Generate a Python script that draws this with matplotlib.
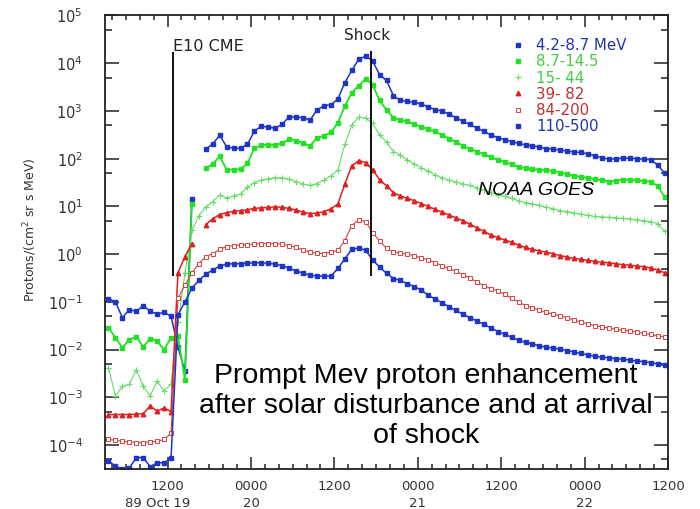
import numpy as np
import matplotlib.pyplot as plt
from matplotlib.lines import Line2D

plt.rcParams['font.family'] = ['DejaVu Sans']

# sample times: hours after 1989 Oct 19 00:00 UT (one point per hour)
hours = [h + 0.5 for h in range(3, 84)]

# log10 of proton flux, Protons/(cm2 sr s MeV)
flux_4_9 = [-0.93, -1.00, -1.33, -1.16, -1.20, -1.08, -1.20, -1.25, -1.22, -1.30,
            -1.95, -2.45, 1.16, np.nan, 2.20, 2.31, 2.49, 2.25, 2.22, 2.22,
            2.30, 2.58, 2.68, 2.66, 2.64, 2.72, 2.88, 2.87, 2.86, 2.81,
            3.02, 3.11, 3.13, 3.25, 3.59, 3.85, 4.08, 4.15, 4.05, 3.76,
            3.64, 3.32, 3.22, 3.20, 3.18, 3.15, 3.08, 3.03, 3.00, 2.93,
            2.86, 2.78, 2.72, 2.64, 2.57, 2.50, 2.44, 2.40, 2.36, 2.32,
            2.29, 2.27, 2.24, 2.21, 2.20, 2.18, 2.16, 2.14, 2.13, 2.10,
            2.06, 2.02, 1.99, 2.00, 2.01, 2.01, 2.00, 1.99, 1.98, 1.87,
            1.70]
flux_9_15 = [-1.54, -1.75, -1.96, -1.79, -1.73, -1.94, -1.77, -1.82, -2.00, -1.75,
             -1.72, -2.63, 1.05, np.nan, 1.80, 1.89, 2.05, 1.77, 1.77, 1.78,
             1.90, 2.22, 2.29, 2.29, 2.29, 2.32, 2.41, 2.38, 2.33, 2.27,
             2.43, 2.48, 2.55, 2.75, 3.10, 3.38, 3.53, 3.67, 3.55, 3.22,
             3.02, 2.86, 2.81, 2.78, 2.72, 2.67, 2.62, 2.57, 2.50, 2.42,
             2.35, 2.27, 2.21, 2.15, 2.10, 2.03, 1.98, 1.93, 1.88, 1.83,
             1.80, 1.78, 1.77, 1.76, 1.74, 1.71, 1.68, 1.64, 1.62, 1.60,
             1.57, 1.55, 1.52, 1.54, 1.56, 1.56, 1.55, 1.53, 1.52, 1.43,
             1.20]
flux_15_44 = [-2.38, -2.97, -2.77, -2.73, -2.42, -2.77, -2.97, -2.66, -2.87, -2.72,
              -1.43, -0.40, 0.50, 0.80, 0.99, 1.10, 1.24, 1.18, 1.22, 1.26,
              1.40, 1.50, 1.55, 1.58, 1.60, 1.60, 1.57, 1.52, 1.47, 1.44,
              1.48, 1.55, 1.64, 1.76, 2.30, 2.70, 2.87, 2.85, 2.74, 2.50,
              2.35, 2.15, 2.08, 1.97, 1.89, 1.81, 1.74, 1.66, 1.60, 1.55,
              1.51, 1.47, 1.44, 1.39, 1.34, 1.29, 1.24, 1.21, 1.17, 1.12,
              1.08, 1.05, 1.02, 0.98, 0.95, 0.91, 0.89, 0.86, 0.84, 0.81,
              0.79, 0.78, 0.77, 0.76, 0.75, 0.74, 0.72, 0.70, 0.68, 0.64,
              0.48]
flux_39_82 = [-3.36, -3.36, -3.36, -3.36, -3.35, -3.34, -3.18, -3.29, -3.22, -3.30,
              -0.39, -0.05, 0.22, np.nan, 0.62, 0.74, 0.83, 0.87, 0.90, 0.91,
              0.93, 0.96, 0.97, 0.98, 0.99, 0.98, 0.96, 0.92, 0.88, 0.85,
              0.86, 0.89, 0.95, 1.05, 1.47, 1.85, 1.96, 1.92, 1.77, 1.56,
              1.43, 1.29, 1.22, 1.17, 1.12, 1.06, 1.00, 0.94, 0.88, 0.82,
              0.76, 0.70, 0.63, 0.55, 0.48, 0.40, 0.35, 0.30, 0.25, 0.19,
              0.14, 0.10, 0.07, 0.04, 0.01, -0.03, -0.06, -0.09, -0.11, -0.13,
              -0.15, -0.17, -0.18, -0.20, -0.22, -0.23, -0.25, -0.26, -0.29, -0.33,
              -0.39]
flux_84_200 = [-3.88, -3.90, -3.92, -3.93, -3.95, -3.95, -3.93, -3.92, -3.88, -3.75,
               -0.92, -0.65, -0.39, -0.20, -0.05, 0.01, 0.10, 0.16, 0.18, 0.19,
               0.20, 0.21, 0.22, 0.22, 0.22, 0.21, 0.18, 0.14, 0.09, 0.04,
               0.02, 0.01, 0.04, 0.08, 0.28, 0.60, 0.72, 0.68, 0.45, 0.28,
               0.12, 0.05, 0.02, 0.00, -0.03, -0.08, -0.12, -0.18, -0.24, -0.30,
               -0.36, -0.43, -0.50, -0.58, -0.66, -0.72, -0.77, -0.84, -0.92, -1.00,
               -1.08, -1.12, -1.17, -1.22, -1.26, -1.29, -1.33, -1.38, -1.42, -1.46,
               -1.50, -1.52, -1.55, -1.57, -1.59, -1.61, -1.63, -1.66, -1.68, -1.71,
               -1.73]
flux_110_500 = [-4.33, -4.44, -4.50, -4.48, -4.26, -4.26, -4.45, -4.37, -4.37, -4.28,
                -1.27, -1.00, -0.71, -0.55, -0.42, -0.33, -0.25, -0.21, -0.20, -0.20,
                -0.19, -0.18, -0.18, -0.19, -0.21, -0.24, -0.30, -0.35, -0.40, -0.44,
                -0.46, -0.46, -0.46, -0.30, -0.10, 0.10, 0.13, 0.08, -0.12, -0.27,
                -0.40, -0.51, -0.55, -0.62, -0.68, -0.75, -0.86, -0.94, -1.02, -1.10,
                -1.18, -1.26, -1.33, -1.40, -1.47, -1.54, -1.62, -1.68, -1.74, -1.80,
                -1.85, -1.88, -1.92, -1.95, -1.97, -1.99, -2.02, -2.05, -2.08, -2.11,
                -2.14, -2.16, -2.17, -2.19, -2.20, -2.22, -2.24, -2.25, -2.27, -2.30,
                -2.33]

channels = ['4.2-8.7 MeV', '8.7-14.5', '15- 44', '39- 82', '84-200', '110-500']

# x ticks: every 12 h, labelled in UT hhmm
major_hours = [12, 24, 36, 48, 60, 72, 84]
major_labels = ['1200', '0000', '1200', '0000', '1200', '0000', '1200']
day_labels = ['89 Oct 19', '20', '21', '22']
day_hours = [15.2, 24, 48, 72]

cme_hour, shock_hour = 12.78, 41.23

blue = '#1f35c8'
green = '#22e022'
lgreen = '#66dd66'
red = '#e02020'
red2 = '#d84040'

styles = [
    dict(color=blue, marker='s', ms=3.2, lw=1.1),
    dict(color=green, marker='s', ms=3.4, lw=1.3),
    dict(color=lgreen, marker='+', ms=4, lw=0.8, mew=0.8),
    dict(color=red, marker='^', ms=3.2, lw=1.1),
    dict(color=red2, marker='s', ms=2.6, lw=0.8, mfc='white', mew=0.7),
    dict(color=blue, marker='s', ms=3.0, lw=1.1),
]
series = [flux_4_9, flux_9_15, flux_15_44, flux_39_82, flux_84_200, flux_110_500]

fig = plt.figure(figsize=(7, 5.09), dpi=100)
ax = fig.add_axes([0.15, 0.0786, 0.8043, 0.891])

for vals, st in zip(series, styles):
    ax.plot(hours, 10 ** np.array(vals), **st)

ax.set_yscale('log')
ax.set_ylim(10 ** -4.5, 1e5)
ax.set_xlim(3, 84)

ax.set_yticks([10.0 ** k for k in range(-4, 6)])
ax.set_yticks([5 * 10.0 ** k for k in range(-5, 5)], minor=True)
ax.yaxis.set_minor_formatter(plt.NullFormatter())
ax.set_xticks(major_hours)
ax.set_xticklabels(major_labels)
ax.set_xticks([h for h in range(4, 84, 2) if h not in major_hours], minor=True)

ax.tick_params(which='both', direction='in', top=True, right=True, colors='#333333')
ax.tick_params(axis='y', which='major', length=10, width=1.2, pad=16, labelsize=10.5)
ax.tick_params(axis='y', which='minor', length=5, width=1.2)
ax.tick_params(axis='x', which='major', length=8.5, width=1.2, pad=8, labelsize=9.5)
ax.tick_params(axis='x', which='minor', length=3.8, width=1.2)
for sp in ax.spines.values():
    sp.set_linewidth(1.3)
    sp.set_color('#222222')

for h, lab in zip(day_hours, day_labels):
    ax.text(h, -0.076, lab, transform=ax.get_xaxis_transform(), fontsize=9.5,
            ha='right' if h == day_hours[0] else 'center', va='center', color='#333333')

ax.set_ylabel('Protons/(cm$^2$ sr s MeV)', fontsize=9, color='#333333')
ax.yaxis.set_label_coords(-0.118, 0.527)

# event markers
ax.vlines([cme_hour, shock_hour], 10 ** -0.46, [10 ** 4.24, 10 ** 4.26],
          colors='#111111', lw=1.4)
ax.text(cme_hour, 10 ** 4.36, 'E10 CME', fontsize=11.5, ha='left', va='center',
        color='#222222')
ax.text(40.76, 10 ** 4.59, 'Shock', fontsize=11, ha='center', va='center',
        color='#222222')

handles = [Line2D([], [], ls='none', color=st['color'], marker=st['marker'],
                  ms=st['ms'], mfc=st.get('mfc', st['color']), mew=st.get('mew', 1))
           for st in styles]
ax.legend(handles, channels, loc='upper left', bbox_to_anchor=(0.723, 0.950),
          frameon=False, handlelength=0.8, handletextpad=0.8, labelspacing=0.08,
          borderpad=0, borderaxespad=0, fontsize=10.8,
          labelcolor=['#2233aa', '#44cc44', '#44cc44', '#c03030', '#c03030', '#2233aa'])

ax.text(0.766, 0.613, 'NOAA GOES', transform=ax.transAxes, fontsize=14,
        style='italic', family='Liberation Sans', ha='center', va='center')
ax.text(0.570, 0.139,
        'Prompt Mev proton enhancement\nafter solar disturbance and at arrival\nof shock',
        transform=ax.transAxes, fontsize=20.5, family='Liberation Sans',
        ha='center', va='center', linespacing=1.2)

fig.savefig('out.png', dpi=100)
